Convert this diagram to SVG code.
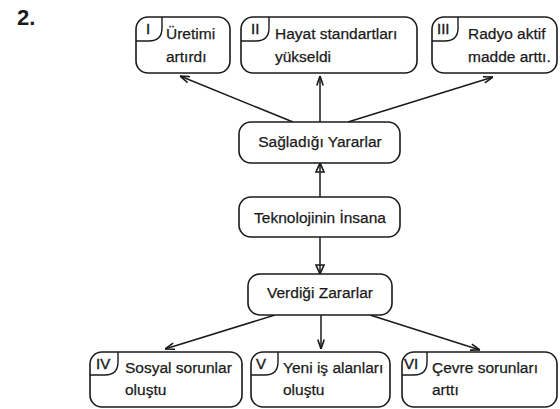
<svg xmlns="http://www.w3.org/2000/svg" width="560" height="409" viewBox="0 0 560 409">
<style>
.box{fill:#fff;stroke:#1a1a1a;stroke-width:1.6}
.tab{fill:none;stroke:#1a1a1a;stroke-width:1.4}
.t{font-family:"Liberation Sans",Arial,sans-serif;font-size:15.5px;fill:#1a1a1a;stroke:#1a1a1a;stroke-width:0.25}
.n{font-family:"Liberation Sans",Arial,sans-serif;font-size:15px;fill:#1a1a1a;stroke:#1a1a1a;stroke-width:0.4}
.c{text-anchor:middle}
.ln{fill:none;stroke:#1a1a1a;stroke-width:1.5}
</style>
<defs>
<marker id="ah" markerUnits="userSpaceOnUse" viewBox="0 0 10 8" refX="10" refY="4" markerWidth="10" markerHeight="8" orient="auto">
<path d="M0.5,0.8 L10,4 L0.5,7.2" fill="none" stroke="#1a1a1a" stroke-width="1.6"/>
</marker>
<marker id="tri" markerUnits="userSpaceOnUse" viewBox="0 0 11 10" refX="10" refY="5" markerWidth="11" markerHeight="10" orient="auto">
<path d="M10,5 L1,1 L1,9 Z" fill="none" stroke="#1a1a1a" stroke-width="1.7"/>
</marker>
</defs>
<rect width="560" height="409" fill="#fff"/>
<text x="17" y="25" font-family="Liberation Sans,Arial,sans-serif" font-size="22" font-weight="bold" fill="#1a1a1a">2.</text>

<g id="connectors">
<line class="ln" x1="293" y1="122" x2="180" y2="76" marker-end="url(#ah)"/>
<line class="ln" x1="320" y1="122" x2="320" y2="76" marker-end="url(#ah)"/>
<line class="ln" x1="348" y1="122" x2="493" y2="77" marker-end="url(#ah)"/>
<line class="ln" x1="320" y1="197" x2="320" y2="163" marker-end="url(#tri)"/>
<line class="ln" x1="320" y1="237" x2="320" y2="274" marker-end="url(#tri)"/>
<line class="ln" x1="275" y1="315" x2="165" y2="349" marker-end="url(#ah)"/>
<line class="ln" x1="321" y1="315" x2="321" y2="349" marker-end="url(#ah)"/>
<line class="ln" x1="370" y1="315" x2="480" y2="350" marker-end="url(#ah)"/>
</g>

<g id="node-I">
<rect class="box" x="136" y="17" width="94" height="56" rx="12"/>
<path class="tab" d="M162,17 V28 Q162,41 149,41 H136"/>
<text class="n" x="146" y="34">I</text>
<text class="t" x="166" y="39">Üretimi</text>
<text class="t" x="166" y="62">artırdı</text>
</g>
<g id="node-II">
<rect class="box" x="241" y="17" width="176" height="56" rx="12"/>
<path class="tab" d="M269,17 V28 Q269,41 256,41 H241"/>
<text class="n" x="251" y="34">II</text>
<text class="t" x="275" y="39">Hayat standartları</text>
<text class="t" x="275" y="62">yükseldi</text>
</g>
<g id="node-III">
<rect class="box" x="432" y="17" width="125" height="56" rx="12"/>
<path class="tab" d="M458,17 V28 Q458,41 445,41 H432"/>
<text class="n" x="437" y="34">III</text>
<text class="t" x="468" y="39">Radyo aktif</text>
<text class="t" x="468" y="62">madde arttı.</text>
</g>

<g id="node-saglad">
<rect class="box" x="239" y="122" width="161" height="41" rx="12"/>
<text class="t c" x="320" y="147">Sağladığı Yararlar</text>
</g>
<g id="node-tekno">
<rect class="box" x="239" y="197" width="161" height="40" rx="12"/>
<text class="t c" x="320" y="223">Teknolojinin İnsana</text>
</g>
<g id="node-verdigi">
<rect class="box" x="248" y="274" width="144" height="41" rx="12"/>
<text class="t c" x="320" y="298">Verdiği Zararlar</text>
</g>

<g id="node-IV">
<rect class="box" x="90" y="352" width="152" height="55" rx="12"/>
<path class="tab" d="M118,352 V362 Q118,375 105,375 H90"/>
<text class="n" x="96" y="369">IV</text>
<text class="t" x="125" y="373">Sosyal sorunlar</text>
<text class="t" x="125" y="395">oluştu</text>
</g>
<g id="node-V">
<rect class="box" x="251" y="352" width="139" height="55" rx="12"/>
<path class="tab" d="M278,352 V362 Q278,375 265,375 H251"/>
<text class="n" x="256" y="369">V</text>
<text class="t" x="283" y="373">Yeni iş alanları</text>
<text class="t" x="283" y="395">oluştu</text>
</g>
<g id="node-VI">
<rect class="box" x="402" y="352" width="155" height="55" rx="12"/>
<path class="tab" d="M427,352 V362 Q427,375 414,375 H402"/>
<text class="n" x="404" y="369">VI</text>
<text class="t" x="432" y="373">Çevre sorunları</text>
<text class="t" x="432" y="395">arttı</text>
</g>
</svg>
